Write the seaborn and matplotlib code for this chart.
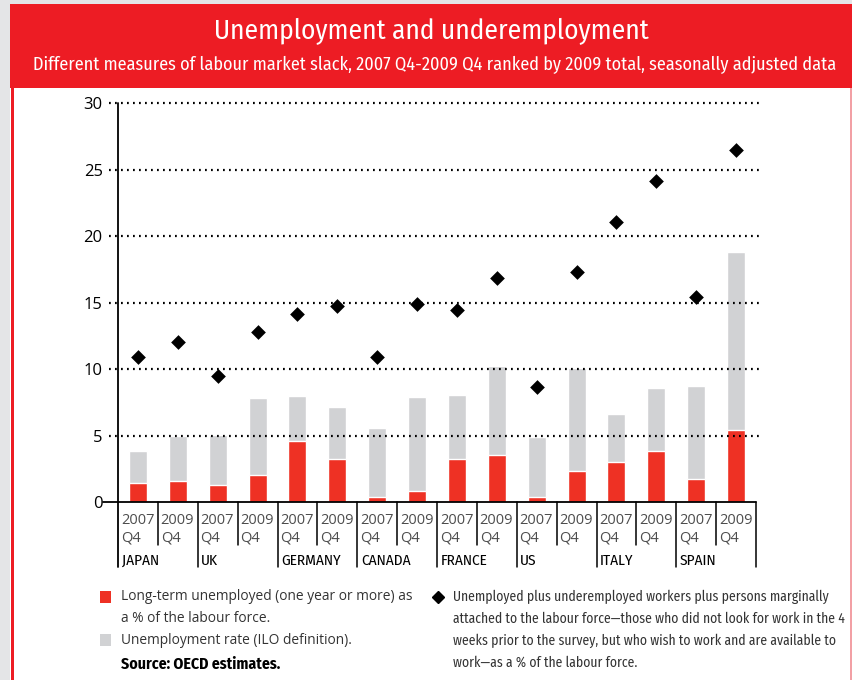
import numpy as np
import pandas as pd
import matplotlib.pyplot as plt
import seaborn as sns
from matplotlib import font_manager
from matplotlib.patches import Rectangle
from matplotlib.lines import Line2D

# --- data ---
countries = ['JAPAN', 'UK', 'GERMANY', 'CANADA', 'FRANCE', 'US', 'ITALY', 'SPAIN']
years = ['2007', '2009']
quarter = 'Q4'
unemployment = [3.8, 5.0, 5.05, 7.85, 8.0, 7.15, 5.6, 7.9, 8.05, 10.25,
                4.85, 10.1, 6.65, 8.6, 8.7, 18.8]
long_term = [1.4, 1.6, 1.3, 2.0, 4.6, 3.25, 0.4, 0.85, 3.2, 3.5,
             0.4, 2.3, 3.0, 3.8, 1.75, 5.45]
slack_total = [10.9, 12.0, 9.5, 12.75, 14.15, 14.7, 10.9, 14.9, 14.4, 16.85,
               8.65, 17.3, 21.05, 24.15, 15.4, 26.45]

RED = '#ee3124'
GREY = '#d1d2d4'
W, H = 852, 680

df = pd.DataFrame({
    'slot': [f'{c} {y}' for c in countries for y in years],
    'unemployment': unemployment,
    'long_term': long_term,
    'slack_total': slack_total,
})
order = list(df['slot'])

# pick installed fonts, fall back gracefully
available = {f.name for f in font_manager.fontManager.ttflist}

def pick(*names):
    for n in names:
        if n in available:
            return n
    return 'DejaVu Sans'

COND = pick('Fira Sans Condensed', 'Roboto Condensed', 'Archivo Narrow',
            'Liberation Sans Narrow', 'Liberation Sans')
LIGHT = pick('Open Sans', 'Noto Sans', 'DejaVu Sans')

def fx(x):
    return x / W

def fy(y):
    return 1 - y / H

sns.set_style('white')
plt.rcParams['font.family'] = [COND, 'DejaVu Sans']

fig = plt.figure(figsize=(W / 100, H / 100), dpi=100, facecolor='#e4e5e7')
renderer = fig.canvas.get_renderer()

def fit_width(t, target):
    # scale font size so the text spans `target` pixels
    for _ in range(3):
        w = t.get_window_extent(renderer=renderer).width
        t.set_fontsize(t.get_fontsize() * target / w)
    return t.get_fontsize()

# page frame and red header
fig.patches.append(Rectangle((fx(10), 0), fx(W - 10), fy(4), transform=fig.transFigure,
                             facecolor='white', edgecolor='none', zorder=-3))
fig.patches.append(Rectangle((fx(10), fy(88)), fx(W - 10), fy(4) - fy(88), transform=fig.transFigure,
                             facecolor='#ed1c24', edgecolor='none', zorder=-2))
fig.patches.append(Rectangle((fx(11), 0), fx(2.5), fy(88), transform=fig.transFigure,
                             facecolor='#ed1c24', edgecolor='none', zorder=-2))
fig.patches.append(Rectangle((fx(850), 0), fx(1.5), fy(88), transform=fig.transFigure,
                             facecolor='#f2a0a5', edgecolor='none', zorder=-2))
title = fig.text(fx(431), fy(31), 'Unemployment and underemployment', color='white',
                 fontsize=23, ha='center', va='center')
fit_width(title, 435)
sub = fig.text(fx(435), fy(65), 'Different measures of labour market slack, 2007 Q4-2009 Q4 '
               'ranked by 2009 total, seasonally adjusted data', color='white',
               fontsize=13.5, ha='center', va='center')
fit_width(sub, 803)

# plot area: x 118..756 px, y 103..502 px
ax = fig.add_axes([fx(118), fy(502), fx(756 - 118), fy(103) - fy(502)])
ax.set_facecolor('none')

sns.barplot(data=df, x='slot', y='unemployment', order=order, color=GREY,
            saturation=1, width=0.45, errorbar=None, ax=ax, zorder=2)
sns.barplot(data=df, x='slot', y='long_term', order=order, color=RED,
            saturation=1, width=0.45, errorbar=None, ax=ax, zorder=3)
sns.stripplot(data=df, x='slot', y='slack_total', order=order, color='black',
              marker='D', size=7.5, jitter=False, linewidth=0, ax=ax, zorder=5)

ax.set_xlim(-0.5, len(order) - 0.5)
ax.set_ylim(0, 30)
ax.set_yticks(range(0, 31, 5))
ax.tick_params(axis='y', length=0, pad=11, labelsize=12, labelcolor='black')
for lab in ax.get_yticklabels():
    lab.set_family([LIGHT, 'DejaVu Sans'])
ax.set_xticks([])
ax.set_xlabel('')
ax.set_ylabel('')
sns.despine(ax=ax, left=True, bottom=True)

# dotted gridlines over the bars
ytr = ax.get_yaxis_transform()
for v in range(5, 31, 5):
    ax.plot([-0.014, 1.006], [v, v], transform=ytr, clip_on=False, color='black',
            lw=1.6, ls=(0, (0.8, 1.9)), zorder=4)

# axis lines
axh = 399.0
ax.plot([(103 - 118) / 638, 1], [0, 0], transform=ytr, clip_on=False, color='black', lw=1.3, zorder=6)
ax.plot([0, 0], [-65 / axh, 1], transform=ax.transAxes, clip_on=False, color='black', lw=1.3, zorder=6)

# category separators and labels under the axis
xtr = ax.get_xaxis_transform()
for k in range(1, len(order) + 1):
    depth = 65 if k % 2 == 0 else 43
    ax.plot([k - 0.5, k - 0.5], [0, -depth / axh], transform=xtr, clip_on=False,
            color='black', lw=1.1, zorder=6)
for i, c in enumerate(countries):
    for j, y in enumerate(years):
        pos = 2 * i + j - 0.5 + 0.07
        ax.text(pos, -18 / axh, y, transform=xtr, ha='left', va='center', fontsize=10.5,
                color='#4d4d4d', family=[LIGHT, 'DejaVu Sans'])
        ax.text(pos, -36 / axh, quarter, transform=xtr, ha='left', va='center', fontsize=10.5,
                color='#4d4d4d', family=[LIGHT, 'DejaVu Sans'])
    ax.text(2 * i - 0.5 + 0.09, -59 / axh, c, transform=xtr, ha='left', va='center',
            fontsize=11, color='black')

# legend block
fig.patches.append(Rectangle((fx(100), fy(603)), fx(11), fy(591) - fy(603), transform=fig.transFigure,
                             facecolor=RED, edgecolor='none'))
fig.patches.append(Rectangle((fx(100), fy(646)), fx(11), fy(634) - fy(646), transform=fig.transFigure,
                             facecolor=GREY, edgecolor='none'))
left_kw = dict(fontsize=10, color='#333333', va='center', ha='left', family=[LIGHT, 'DejaVu Sans'])
t0 = fig.text(fx(121), fy(597), 'Long-term unemployed (one year or more) as', **left_kw)
left_kw['fontsize'] = fit_width(t0, 289)
fig.text(fx(121), fy(619), 'a % of the labour force.', **left_kw)
fig.text(fx(121), fy(640), 'Unemployment rate (ILO definition).', **left_kw)
src = fig.text(fx(121), fy(664), 'Source: OECD estimates.', fontsize=11, fontweight='bold',
               color='black', va='center', ha='left')
fit_width(src, 160)

fig.lines.append(Line2D([fx(438)], [fy(597)], transform=fig.transFigure, marker='D',
                        markersize=6.5, color='black', lw=0))
diamond_text = ['Unemployed plus underemployed workers plus persons marginally',
                'attached to the labour force\u2014those who did not look for work in the 4',
                'weeks prior to the survey, but who wish to work and are available to',
                'work\u2014as a % of the labour force.']
d0 = fig.text(fx(453), fy(597), diamond_text[0], fontsize=10.5, color='#333333',
              va='center', ha='left')
dsize = fit_width(d0, 377)
for n, line in enumerate(diamond_text[1:], start=1):
    fig.text(fx(453), fy(597 + 21.7 * n), line, fontsize=dsize, color='#333333',
             va='center', ha='left')

fig.savefig('out.png', dpi=100, facecolor=fig.get_facecolor())
